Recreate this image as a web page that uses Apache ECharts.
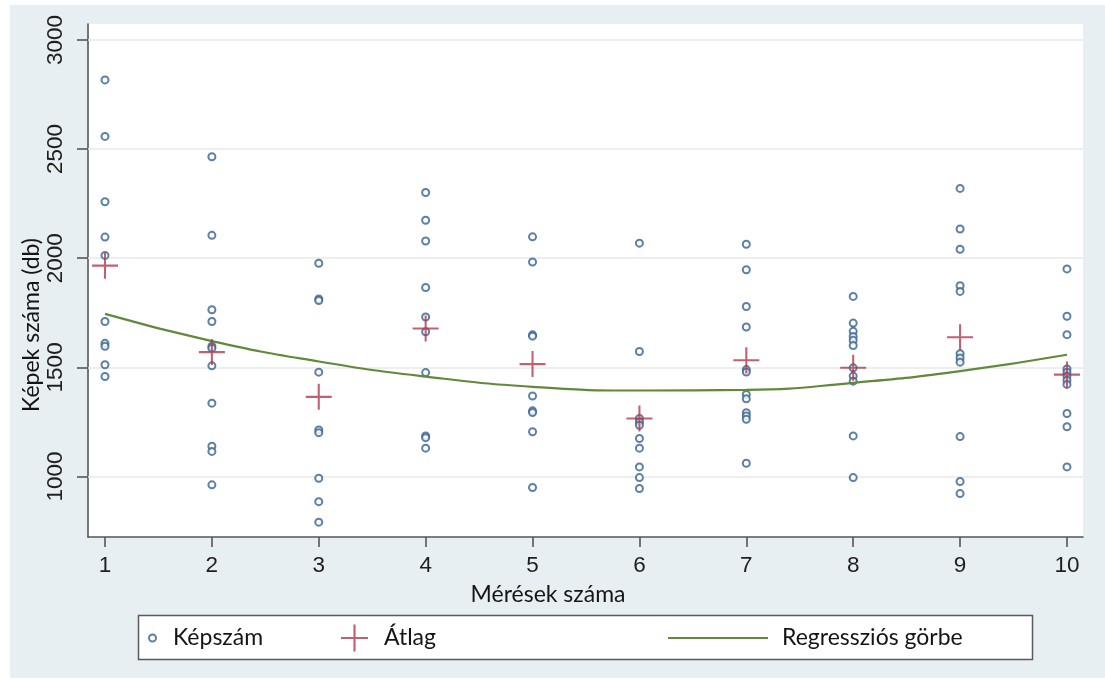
<!DOCTYPE html>
<html>
<head>
<meta charset="utf-8">
<script src="https://cdn.jsdelivr.net/npm/echarts@6/dist/echarts.min.js"></script>
<style>
html,body{margin:0;padding:0;background:#fff;}
#chart{width:1105px;height:679px;}
</style>
</head>
<body>
<div id="chart"></div>
<script>
// ---- data ----
const categories = [1, 2, 3, 4, 5, 6, 7, 8, 9, 10];
const yTicks = [1000, 1500, 2000, 2500, 3000];
const kep1 = [2817, 2558, 2259, 2097, 2013, 1710, 1610, 1597, 1512, 1458];
const kep2 = [2465, 2105, 1764, 1710, 1597, 1588, 1507, 1336, 1139, 1115, 962];
const kep3 = [1977, 1813, 1806, 1478, 1213, 1201, 992, 885, 791];
const kep4 = [2301, 2174, 2079, 1866, 1731, 1663, 1476, 1186, 1178, 1130];
const kep5 = [2098, 1983, 1649, 1643, 1369, 1301, 1293, 1205, 950];
const kep6 = [2069, 1573, 1266, 1250, 1235, 1174, 1130, 1044, 995, 945];
const kep7 = [2064, 1947, 1779, 1685, 1490, 1479, 1376, 1356, 1292, 1277, 1262, 1061];
const kep8 = [1825, 1703, 1665, 1642, 1624, 1600, 1498, 1460, 1437, 1186, 995];
const kep9 = [2320, 2134, 2041, 1874, 1848, 1563, 1543, 1524, 1183, 977, 922];
const kep10 = [1951, 1734, 1650, 1493, 1478, 1460, 1441, 1422, 1289, 1228, 1044];
const atlag = [1966, 1570, 1365, 1678, 1515, 1266, 1533, 1498, 1638, 1467];
const regresszio = [1745, 1620, 1527, 1458, 1411, 1394, 1397, 1429, 1483, 1558];

const groups = [kep1, kep2, kep3, kep4, kep5, kep6, kep7, kep8, kep9, kep10];
const scatterData = [];
groups.forEach((g, i) => g.forEach(v => scatterData.push([categories[i], v])));
const meanData = categories.map((c, i) => [c, atlag[i]]);
const regData = categories.map((c, i) => [c, regresszio[i]]);

const crossPath = 'path://M0,9.2H20V10.8H0Z M9.2,0H10.8V20H9.2Z';
const circleColor = '#34608f';
const crossColor = '#b23a4c';
const lineColor = '#62893a';
const tickFont = 'Arial, "Liberation Sans", sans-serif';
const titleFont = 'Lato';

const chart = echarts.init(document.getElementById('chart'), null, {renderer: 'canvas'});
chart.setOption({
  backgroundColor: '#ffffff',
  animation: false,
  graphic: [
    {type: 'rect', z: -10, silent: true, shape: {x: 10, y: 5, width: 1095, height: 673}, style: {fill: '#e8eff2'}},
    {type: 'rect', z: 10, silent: true, shape: {x: 138.5, y: 615.5, width: 894, height: 44},
      style: {fill: '#ffffff', stroke: '#5a5a5a', lineWidth: 1.5}},
    {type: 'text', z: 20, silent: true, x: 548, y: 595,
      style: {text: 'Mérések száma', font: '23px ' + titleFont, fill: '#151515', align: 'center', verticalAlign: 'middle'}},
    {type: 'text', z: 20, silent: true, x: 32, y: 325, rotation: Math.PI / 2,
      style: {text: 'Képek száma (db)', font: '23px ' + titleFont, fill: '#151515', align: 'center', verticalAlign: 'middle'}}
  ],
  grid: {left: 88, top: 24, right: 22, bottom: 142, show: true, backgroundColor: '#ffffff', borderWidth: 0, containLabel: false},
  xAxis: {
    type: 'value', min: 0.841, max: 10.15,
    axisLine: {lineStyle: {color: '#555555', width: 1.6}},
    axisTick: {show: true, length: 10, customValues: categories, lineStyle: {color: '#555555', width: 1.6}},
    axisLabel: {customValues: categories, margin: 17, fontSize: 22.5, fontFamily: tickFont, color: '#1e1e1e',
      formatter: v => String(v)},
    splitLine: {show: false}
  },
  yAxis: {
    type: 'value', min: 723, max: 3073,
    axisLine: {show: true, lineStyle: {color: '#555555', width: 1.6}},
    axisTick: {show: true, length: 11, customValues: yTicks, lineStyle: {color: '#555555', width: 1.6}},
    axisLabel: {customValues: yTicks, rotate: 90, margin: 21, fontSize: 22.5, fontFamily: tickFont, color: '#1e1e1e',
      formatter: v => String(v)},
    splitLine: {show: false}
  },
  legend: [
    {data: [{name: 'Képszám', icon: 'emptyCircle'}], left: 148, top: 626.5, padding: 0, itemWidth: 7, itemHeight: 7,
      textStyle: {fontSize: 23, fontFamily: titleFont, color: '#151515', padding: [0, 0, 0, 12]}, z: 30, selectedMode: false},
    {data: [{name: 'Átlag', icon: crossPath}], left: 341, top: 624.5, padding: 0, itemWidth: 27, itemHeight: 27,
      textStyle: {fontSize: 23, fontFamily: titleFont, color: '#151515', padding: [0, 0, 0, 11]}, z: 30, selectedMode: false},
    {data: [{name: 'Regressziós görbe', icon: 'rect'}], left: 668, top: 626.5, padding: 0, itemWidth: 100, itemHeight: 2.2,
      textStyle: {fontSize: 23, fontFamily: titleFont, color: '#151515', padding: [0, 0, 0, 9]}, z: 30, selectedMode: false}
  ],
  series: [
    {
      name: 'Képszám', type: 'scatter', z: 3, symbol: 'emptyCircle', symbolSize: 7,
      itemStyle: {color: circleColor, borderColor: circleColor, borderWidth: 1.8},
      data: scatterData,
      markLine: {
        z: 1, silent: true, symbol: 'none', label: {show: false},
        lineStyle: {color: '#e6e9eb', width: 1.5, type: 'solid'},
        emphasis: {disabled: true},
        data: yTicks.map(v => ({yAxis: v}))
      }
    },
    {
      name: 'Regressziós görbe', type: 'line', z: 4, symbol: 'none', smooth: 0.5,
      lineStyle: {color: lineColor, width: 2.2}, itemStyle: {color: lineColor},
      data: regData
    },
    {
      name: 'Átlag', type: 'scatter', z: 5, symbol: crossPath, symbolSize: 26,
      itemStyle: {color: crossColor},
      data: meanData
    }
  ]
});
</script>
</body>
</html>
